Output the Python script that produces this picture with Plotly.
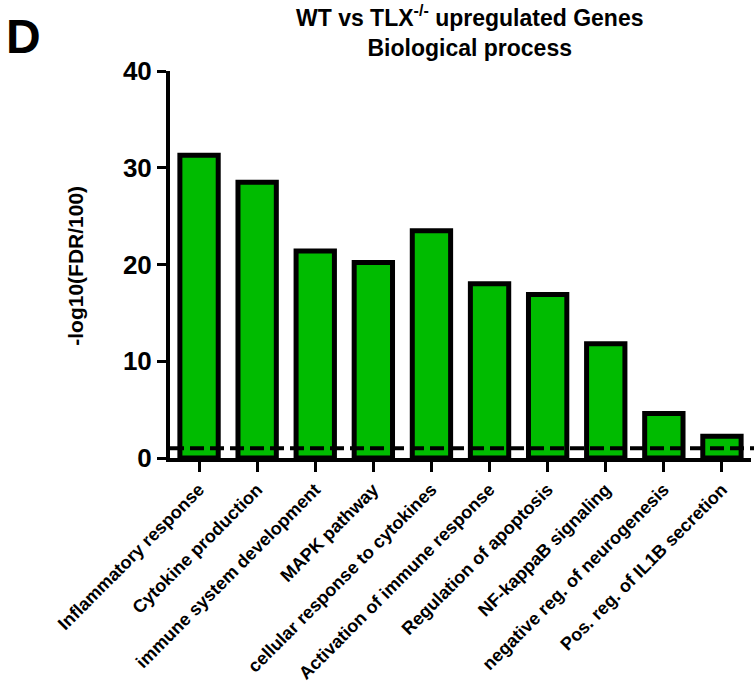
import plotly.graph_objects as go

# GO biological-process enrichment for genes up in TLX-/- vs WT
categories = [
    "Inflammatory response",
    "Cytokine production",
    "immune system development",
    "MAPK pathway",
    "cellular response to cytokines",
    "Activation of immune response",
    "Regulation of apoptosis",
    "NF-kappaB signaling",
    "negative reg. of neurogenesis",
    "Pos. reg. of IL1B secretion",
]
neg_log_fdr = [31.3, 28.5, 21.4, 20.2, 23.5, 18.0, 16.9, 11.8, 4.6, 2.25]
threshold = 1.0
y_ticks = [0, 10, 20, 30, 40]

FONT = "Liberation Sans, Arial, sans-serif"

fig = go.Figure()
fig.add_trace(go.Bar(
    x=list(range(len(categories))),
    y=neg_log_fdr,
    width=0.66,
    marker=dict(color="#00bb00", line=dict(color="black", width=5)),
    showlegend=False,
))

# significance cut-off drawn over the bars
fig.add_shape(
    type="line", xref="paper", yref="y",
    x0=0, x1=1.01, y0=threshold, y1=threshold,
    line=dict(color="black", width=4, dash="14px,6px"),
    layer="above",
)

fig.update_xaxes(
    range=[-0.5, len(categories) - 0.5],
    tickmode="array",
    tickvals=list(range(len(categories))),
    ticktext=categories,
    tickangle=-45,
    ticks="outside", ticklen=10, tickwidth=3, tickcolor="black",
    showline=True, linewidth=4, linecolor="black",
    showgrid=False, zeroline=False,
    tickfont=dict(family=FONT, size=18, color="black", weight="bold"),
)
fig.update_yaxes(
    range=[0, 40],
    tickmode="array", tickvals=y_ticks,
    ticks="outside", ticklen=9, tickwidth=3, tickcolor="black",
    showline=True, linewidth=4, linecolor="black",
    showgrid=False, zeroline=False,
    tickfont=dict(family=FONT, size=26, color="black", weight="bold"),
)

fig.add_annotation(
    text="-log10(FDR/100)", textangle=-90,
    xref="paper", yref="paper", x=-0.164, y=0.496,
    xanchor="center", yanchor="middle", showarrow=False,
    font=dict(family=FONT, size=21, color="black", weight="bold"),
)
fig.add_annotation(
    text="WT vs TLX<sup>-/-</sup> upregulated Genes<br>Biological process",
    xref="paper", yref="paper", x=0.516, y=1.103,
    xanchor="center", yanchor="middle", showarrow=False,
    font=dict(family=FONT, size=23, color="black", weight="bold"),
)
fig.add_annotation(
    text="D",
    xref="paper", yref="paper", x=-0.285, y=1.09,
    xanchor="left", yanchor="middle", showarrow=False,
    font=dict(family=FONT, size=48, color="black", weight="bold"),
)

fig.update_layout(
    width=754, height=688,
    margin=dict(l=170, r=3, t=71, b=230),
    plot_bgcolor="white", paper_bgcolor="white",
    bargap=0.34,
)

fig.write_html("out.html")
